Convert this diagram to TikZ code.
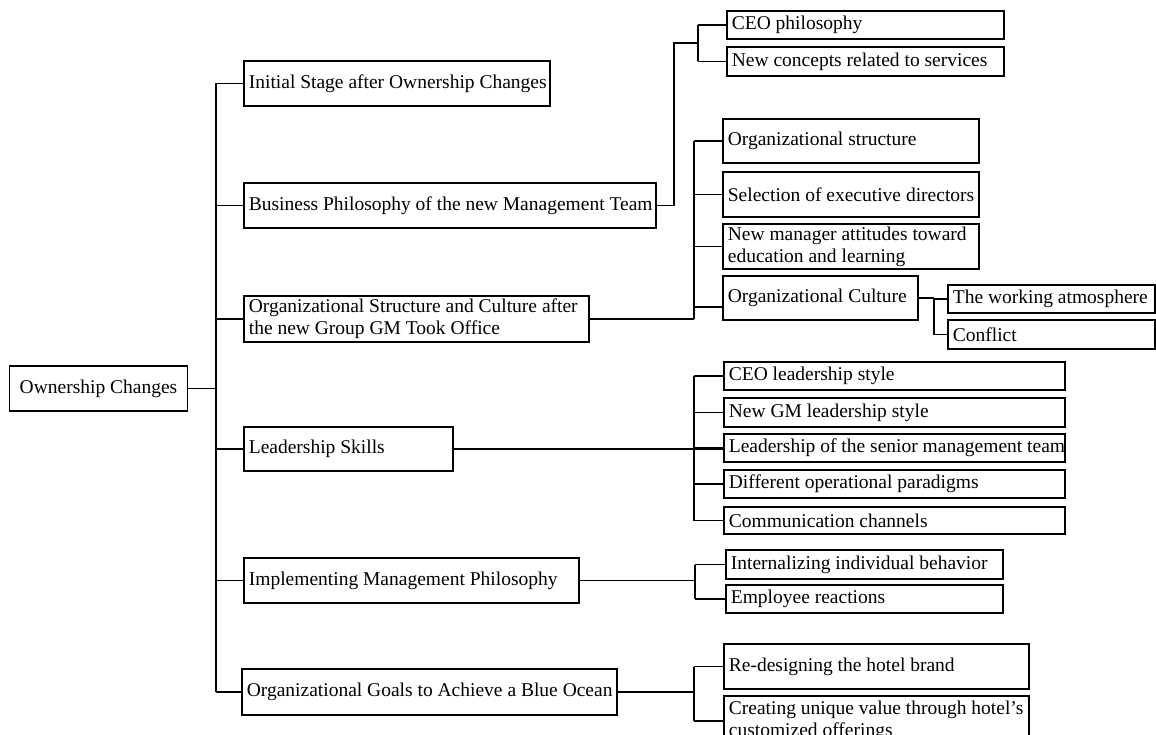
\documentclass[tikz,border=0pt]{standalone}
\usepackage{fontspec}
\setmainfont{Liberation Serif}
\begin{document}
\begin{tikzpicture}[x=1pt,y=1pt,
  box/.style={draw, line width=1.7pt, inner sep=0pt},
  lbl/.style={anchor=west, inner sep=0pt, align=left, font=\fontsize{19.5}{22}\selectfont},
  conn/.style={line width=1.6pt}]
\useasboundingbox (0,0) rectangle (1156,-735);
\fill[white] (0,0) rectangle (1156,-735);
\clip (0,0) rectangle (1156,-735);
\newcommand\bx[6]{%
  \pgfmathsetmacro\bw{#4-#2}\pgfmathsetmacro\bh{#5-#3}%
  \node[box, minimum width=\bw pt, minimum height=\bh pt] (#1) at ({(#2+#4)/2},{-(#3+#5)/2}) {};
  \node[lbl] (#1-t) at ([xshift=5.5pt]#1.west) {#6};}
% root
\node[box, minimum width=178pt, minimum height=45pt] (root) at (98.5,-388.5) {};
\node[lbl, anchor=center] (root-t) at (root.center) {Ownership Changes};
% level 1
\bx{ini}{244}{61}{550}{106}{Initial Stage after Ownership Changes}
\bx{bp}{244}{183}{656}{228}{Business Philosophy of the new Management Team}
\bx{os}{244}{296}{589}{342}{Organizational Structure and Culture after\\the new Group GM Took Office}
\bx{ls}{244}{427}{453}{471}{Leadership Skills}
\bx{imp}{244}{558}{579}{603}{Implementing Management Philosophy}
\bx{goal}{242}{669}{617}{715}{Organizational Goals to Achieve a Blue Ocean}
% level 2
\bx{ceo}{727}{11}{1004}{39}{CEO philosophy}
\bx{nc}{727}{47}{1004}{76}{New concepts related to services}
\bx{ost}{723}{119}{979}{163}{Organizational structure}
\bx{sel}{723}{172}{979}{217}{Selection of executive directors}
\bx{nma}{723}{224}{979}{269}{New manager attitudes toward\\education and learning}
\bx{oc}{723}{276}{918}{320}{Organizational Culture}
\bx{wa}{948}{285}{1155}{313}{The working atmosphere}
\bx{con}{948}{320}{1155}{349}{Conflict}
\bx{cls}{724}{362}{1065}{390}{CEO leadership style}
\bx{ngm}{724}{398}{1065}{427}{New GM leadership style}
\bx{lsm}{724}{434}{1065}{462}{Leadership of the senior management team}
\bx{dop}{724}{470}{1065}{498}{Different operational paradigms}
\bx{cc}{724}{507}{1065}{534}{Communication channels}
\bx{iib}{726}{550}{1003}{579}{Internalizing individual behavior}
\bx{er}{726}{585}{1003}{613}{Employee reactions}
\bx{rdb}{724}{644}{1029}{689}{Re-designing the hotel brand}
\bx{cuv}{724}{696}{1029}{746}{Creating unique value through hotel's\\customized offerings}
% junction coordinates
\coordinate (tX) at (216,0);
\coordinate (bpX) at (674,0);
\coordinate (bpJ) at (698,-43);
\coordinate (osX) at (694,0);
\coordinate (ocX) at (934,0);
\coordinate (lsX) at (694,0);
\coordinate (impX) at (695,0);
\coordinate (gX) at (694,0);
% trunk
\draw[conn] (root.east) -- (root.east -| tX);
\draw[conn] (ini.west -| tX) -- (goal.west -| tX);
\foreach \n in {ini,bp,os,ls,imp,goal} \draw[conn] (\n.west) -- (\n.west -| tX);
% business philosophy
\draw[conn] (bp.east) -- (bp.east -| bpX) -- (bpX |- bpJ) -- (bpJ);
\draw[conn] (ceo.west -| bpJ) -- (nc.west -| bpJ);
\foreach \n in {ceo,nc} \draw[conn] (\n.west) -- (\n.west -| bpJ);
% org structure
\draw[conn] (os.east) -- (os.east -| osX);
\draw[conn] (ost.west -| osX) -- (os.east -| osX);
\foreach \n in {ost,sel,nma} \draw[conn] (\n.west) -- (\n.west -| osX);
\draw[conn] ([yshift=-9pt]oc.west) -- ([yshift=-9pt]oc.west -| osX);
% org culture
\draw[conn] (oc.east) -- (oc.east -| ocX);
\draw[conn] (wa.west -| ocX) -- (con.west -| ocX);
\foreach \n in {wa,con} \draw[conn] (\n.west) -- (\n.west -| ocX);
% leadership
\draw[conn] (ls.east) -- (ls.east -| lsm.west);
\draw[conn] (cls.west -| lsX) -- (cc.west -| lsX);
\foreach \n in {cls,ngm,lsm,dop,cc} \draw[conn] (\n.west) -- (\n.west -| lsX);
% implementing
\draw[conn] (imp.east) -- (imp.east -| impX);
\draw[conn] (iib.west -| impX) -- (er.west -| impX);
\foreach \n in {iib,er} \draw[conn] (\n.west) -- (\n.west -| impX);
% goals
\draw[conn] (goal.east) -- (goal.east -| gX);
\draw[conn] (rdb.west -| gX) -- (cuv.west -| gX);
\foreach \n in {rdb,cuv} \draw[conn] (\n.west) -- (\n.west -| gX);
\end{tikzpicture}
\end{document}
